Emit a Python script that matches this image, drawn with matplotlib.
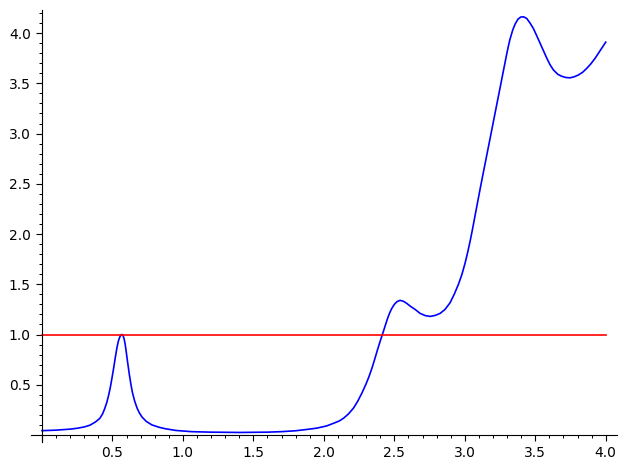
import matplotlib
matplotlib.use("Agg")
import matplotlib.pyplot as plt
import numpy as np
from matplotlib.ticker import FixedLocator

# curve values
x_vals = [0.0, 0.1, 0.2, 0.25, 0.3, 0.34, 0.38, 0.41, 0.43, 0.445, 0.46, 0.472,
          0.485, 0.497, 0.509, 0.52, 0.532, 0.542, 0.552, 0.56, 0.567, 0.575, 0.582,
          0.59, 0.597, 0.605, 0.62, 0.632, 0.643, 0.657, 0.674, 0.69, 0.71, 0.74,
          0.78, 0.83, 0.875, 0.95, 1.06, 1.2, 1.4, 1.6, 1.7, 1.8, 1.88, 1.95,
          2.02, 2.07, 2.11, 2.14, 2.175, 2.21, 2.24, 2.27, 2.30, 2.32, 2.34,
          2.36, 2.38, 2.40, 2.42, 2.437, 2.452, 2.467, 2.482, 2.50,
          2.52, 2.541, 2.565, 2.588, 2.612, 2.647, 2.683, 2.72, 2.754, 2.79,
          2.825, 2.86, 2.896, 2.925, 2.955, 2.98, 3.002, 3.02, 3.038, 3.055,
          3.073, 3.09, 3.109, 3.127, 3.144, 3.162, 3.18, 3.2, 3.222, 3.251,
          3.274, 3.298, 3.31, 3.321, 3.34, 3.357, 3.377, 3.397, 3.418, 3.44,
          3.463, 3.487, 3.51, 3.534, 3.558, 3.582, 3.605, 3.629, 3.66, 3.688,
          3.717, 3.747, 3.776, 3.806, 3.836, 3.866, 3.895, 3.925, 3.96, 4.0]
y_vals = [0.043, 0.048, 0.058, 0.067, 0.08, 0.097, 0.13, 0.165, 0.21, 0.262, 0.325, 0.39,
          0.475, 0.57, 0.67, 0.77, 0.87, 0.935, 0.975, 0.995, 1.0, 0.99, 0.96,
          0.905, 0.835, 0.75, 0.60, 0.495, 0.415, 0.34, 0.27, 0.222, 0.178, 0.135,
          0.10, 0.077, 0.062, 0.045, 0.033, 0.028, 0.025, 0.028, 0.033, 0.042, 0.055, 0.068,
          0.09, 0.117, 0.14, 0.167, 0.21, 0.267, 0.335, 0.417, 0.51, 0.58, 0.66,
          0.75, 0.845, 0.935, 1.02, 1.095, 1.16, 1.215, 1.26, 1.30,
          1.328, 1.34, 1.33, 1.31, 1.283, 1.25, 1.21, 1.188, 1.18, 1.19,
          1.21, 1.25, 1.317, 1.40, 1.50, 1.60, 1.71, 1.815, 1.93, 2.05,
          2.185, 2.31, 2.45, 2.58, 2.70, 2.828, 2.955, 3.098, 3.255, 3.46,
          3.625, 3.795, 3.875, 3.94, 4.03, 4.09, 4.138, 4.16, 4.162, 4.145,
          4.10, 4.045, 3.975, 3.90, 3.825, 3.75, 3.685, 3.633, 3.59, 3.57,
          3.558, 3.555, 3.565, 3.583, 3.61, 3.65, 3.695, 3.75, 3.825, 3.91]

level_x = [0.0, 4.0]
level_y = [1.0, 1.0]

x_ticks = [0.0, 0.5, 1.0, 1.5, 2.0, 2.5, 3.0, 3.5, 4.0]
x_labels = ["", "0.5", "1.0", "1.5", "2.0", "2.5", "3.0", "3.5", "4.0"]
y_ticks = [0.5, 1.0, 1.5, 2.0, 2.5, 3.0, 3.5, 4.0]
y_labels = ["0.5", "1.0", "1.5", "2.0", "2.5", "3.0", "3.5", "4.0"]

fig = plt.figure(figsize=(6.26, 4.69), dpi=100)
ax = fig.add_axes([31 / 626, (469 - 442) / 469, (617 - 31) / 626, (442 - 10) / 469])

ax.plot(x_vals, y_vals, color="#0000ff", lw=1.2)
ax.plot(level_x, level_y, color="#ff0000", lw=1.2)

ax.set_xlim(-0.078, 4.08)
ax.set_ylim(-0.07, 4.23)

for side in ("top", "right"):
    ax.spines[side].set_visible(False)
ax.spines["left"].set_position(("data", 0))
ax.spines["bottom"].set_position(("data", 0))

ax.set_xticks(x_ticks)
ax.set_xticklabels(x_labels)
ax.set_yticks(y_ticks)
ax.set_yticklabels(y_labels)
ax.xaxis.set_minor_locator(FixedLocator(np.arange(1, 41) / 10))
ax.yaxis.set_minor_locator(FixedLocator(np.arange(1, 43) / 10))
ax.tick_params(which="major", length=4.5, width=0.8, labelsize=10)
ax.tick_params(which="minor", length=2.5, width=0.7)

fig.savefig("out.png", dpi=100)
